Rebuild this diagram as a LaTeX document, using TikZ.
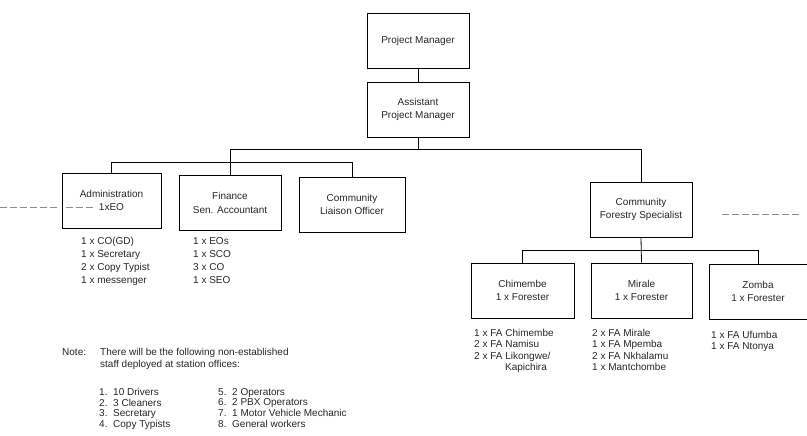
\documentclass[tikz,border=0pt]{standalone}
\usepackage{fontspec}
\setmainfont{Liberation Sans}
\tikzset{
  post/.style={draw, line width=0.8pt, minimum width=102pt, minimum height=55pt,
    align=center, inner sep=2pt, text=black!85, font=\fontsize{10}{13.5}\selectfont},
  staff/.style={anchor=north west, align=left, inner sep=0pt, text=black!85,
    font=\fontsize{10}{13}\selectfont},
  link/.style={line width=0.8pt},
  smudge/.style={black!45, line width=0.7pt, dash pattern=on 7pt off 3pt}
}
\newcommand{\num}[1]{\makebox[14pt][l]{#1}}

\begin{document}
\begin{tikzpicture}[x=1pt, y=-1pt]
	\useasboundingbox (0,0) rectangle (807,436);
	% the posts
	\node[post] (pm) at (418,40.5) {Project Manager};
	\node[post] (apm) at (418,109.5) {Assistant\\Project Manager};
	\node[post, minimum width=99pt] (adm) at (111.5,200.5) {Administration\\1xEO};
	\node[post] (fin) at (230,203) {Finance\\Sen. Accountant};
	\node[post, minimum width=106pt] (cl) at (352,204.5) {Community\\Liaison Officer};
	\node[post] (cfs) at (641,209.5) {Community\\Forestry Specialist};
	\node[post, minimum width=103pt] (chi) at (522.5,290.5) {Chimembe\\1 x Forester};
	\node[post, minimum width=101pt] (mir) at (641.5,290.5) {Mirale\\1 x Forester};
	\node[post, minimum width=98pt] (zom) at (758,291.5) {Zomba\\1 x Forester};
	% the lines between them
	\coordinate (topbus) at (641,149);
	\coordinate (subbus) at (0,162);
	\coordinate (fbus) at (0,250);
	\draw[link] (pm) -- (apm);
	\draw[link] (apm.south) -- (apm.south |- topbus);
	\draw[link] (fin.north) |- (topbus) -- (cfs.north);
	\draw[link] (adm.north) |- (subbus -| cl.north) -- (cl.north);
	\draw[link] (cfs.south) -- (mir.north);
	\draw[link] (chi.north) |- (fbus -| zom.north) -- (zom.north);
	% staff under each post
	\node[staff] (admstaff) at (81,237) {1 x CO(GD)\\1 x Secretary\\2 x Copy Typist\\1 x messenger};
	\node[staff] (finstaff) at (193,237) {1 x EOs\\1 x SCO\\3 x CO\\1 x SEO};
	\node[staff, font=\fontsize{10}{11.5}\selectfont] (chistaff) at (474,329)
		{1 x FA Chimembe\\2 x FA Namisu\\2 x FA Likongwe/\\\hspace*{31pt}Kapichira};
	\node[staff, font=\fontsize{10}{11.5}\selectfont] (mirstaff) at (592,329)
		{2 x FA Mirale\\1 x FA Mpemba\\2 x FA Nkhalamu\\1 x Mantchombe};
	\node[staff, font=\fontsize{10}{11.5}\selectfont] (zomstaff) at (711,331)
		{1 x FA Ufumba\\1 x FA Ntonya};
	% note
	\node[staff, font=\fontsize{10}{12}\selectfont] (note) at (62,348) {Note:};
	\node[staff, font=\fontsize{10}{12}\selectfont] (notetext) at (100,348)
		{There will be the following non-established\\staff deployed at station offices:};
	\node[staff, font=\fontsize{10}{10.7}\selectfont] (extra1) at (99,388)
		{\num{1.}10 Drivers\\\num{2.}3 Cleaners\\\num{3.}Secretary\\\num{4.}Copy Typists};
	\node[staff, font=\fontsize{10}{10.7}\selectfont] (extra2) at (218,388)
		{\num{5.}2 Operators\\\num{6.}2 PBX Operators\\\num{7.}1 Motor Vehicle Mechanic\\\num{8.}General workers};
	% scan marks
	\draw[smudge] (0,207) -- (57,207);
	\draw[smudge] (66,207) -- (94,207);
	\draw[smudge] (722,214) -- (800,214);
\end{tikzpicture}
\end{document}
